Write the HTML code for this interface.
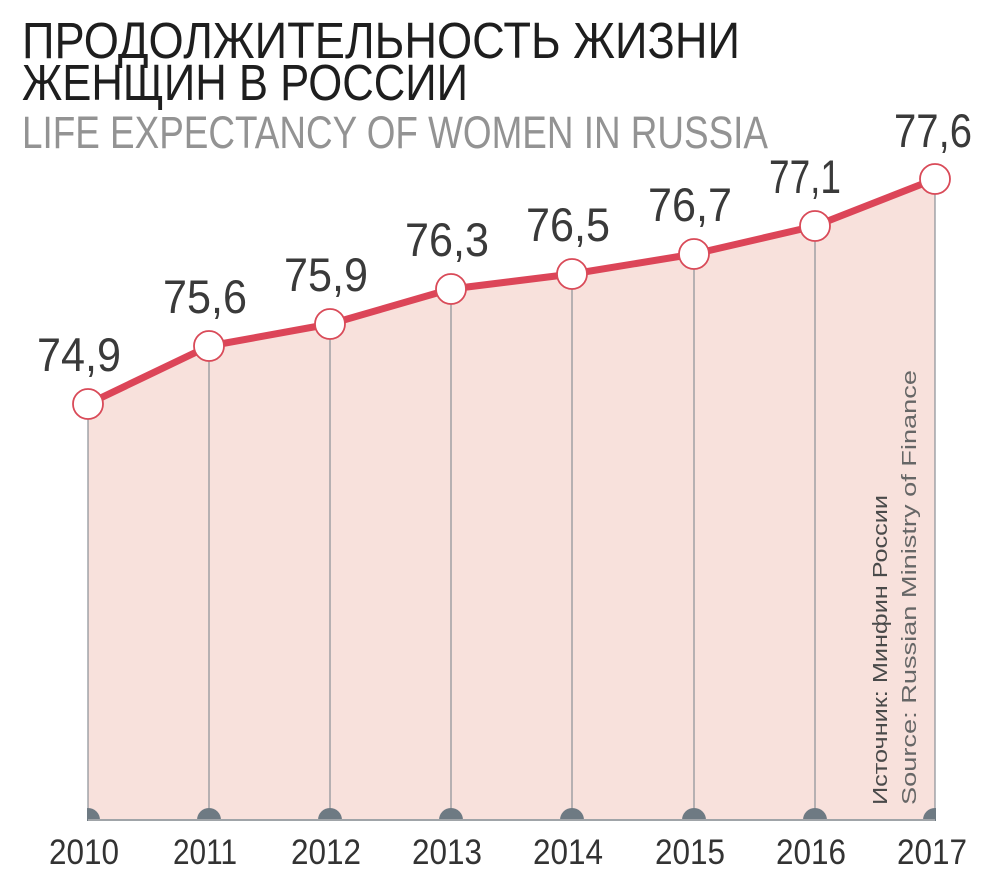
<!DOCTYPE html>
<html><head><meta charset="utf-8"><style>
html,body{margin:0;padding:0;background:#fff;}
svg{display:block;}
text{font-family:"Liberation Sans","DejaVu Sans",sans-serif;}
</style></head><body>
<svg width="1007" height="880" viewBox="0 0 1007 880" xmlns="http://www.w3.org/2000/svg">
<text x="22" y="58" font-size="51" fill="#1e1e1e" textLength="718" lengthAdjust="spacingAndGlyphs">ПРОДОЛЖИТЕЛЬНОСТЬ ЖИЗНИ</text>
<text x="22" y="100" font-size="51" fill="#1e1e1e" textLength="446" lengthAdjust="spacingAndGlyphs">ЖЕНЩИН В РОССИИ</text>
<text x="22" y="148" font-size="45" fill="#939393" textLength="746" lengthAdjust="spacingAndGlyphs">LIFE EXPECTANCY OF WOMEN IN RUSSIA</text>
<polygon fill="#f8e1dc" points="88,404 209,346 330,324 451,289 572,274 694,254 815,226 935,179 935,820 88,820"/>
<g stroke="#8a8f96" stroke-width="1.2">
<line x1="88" y1="404" x2="88" y2="820"/><line x1="209" y1="346" x2="209" y2="820"/><line x1="330" y1="324" x2="330" y2="820"/><line x1="451" y1="289" x2="451" y2="820"/><line x1="572" y1="274" x2="572" y2="820"/><line x1="694" y1="254" x2="694" y2="820"/><line x1="815" y1="226" x2="815" y2="820"/><line x1="935" y1="179" x2="935" y2="820"/>
</g>
<g fill="#6e7a83">
<circle cx="88" cy="820" r="12"/><circle cx="209" cy="820" r="12"/><circle cx="330" cy="820" r="12"/><circle cx="451" cy="820" r="12"/><circle cx="572" cy="820" r="12"/><circle cx="694" cy="820" r="12"/><circle cx="815" cy="820" r="12"/><circle cx="935" cy="820" r="12"/>
</g>
<rect x="0" y="821" width="1007" height="59" fill="#fff"/>
<rect x="0" y="400" width="87" height="421" fill="#fff"/>
<rect x="936" y="170" width="71" height="651" fill="#fff"/>
<line x1="88" y1="820" x2="935" y2="820" stroke="#a0a4a8" stroke-width="2"/>
<polyline fill="none" stroke="#dc4558" stroke-width="7" stroke-linejoin="round" points="88,404 209,346 330,324 451,289 572,274 694,254 815,226 935,179"/>
<g fill="#fff" stroke="#d94a58" stroke-width="1.8">
<circle cx="88" cy="404" r="15"/><circle cx="209" cy="346" r="15"/><circle cx="330" cy="324" r="15"/><circle cx="451" cy="289" r="15"/><circle cx="572" cy="274" r="15"/><circle cx="694" cy="254" r="15"/><circle cx="815" cy="226" r="15"/><circle cx="935" cy="179" r="15"/>
</g>
<g font-size="47" fill="#3a3a3a" text-anchor="middle">
<text x="79" y="371" textLength="84" lengthAdjust="spacingAndGlyphs">74,9</text>
<text x="205" y="313" textLength="84" lengthAdjust="spacingAndGlyphs">75,6</text>
<text x="326" y="291" textLength="84" lengthAdjust="spacingAndGlyphs">75,9</text>
<text x="447" y="256" textLength="84" lengthAdjust="spacingAndGlyphs">76,3</text>
<text x="568" y="241" textLength="84" lengthAdjust="spacingAndGlyphs">76,5</text>
<text x="690" y="221" textLength="84" lengthAdjust="spacingAndGlyphs">76,7</text>
<text x="805" y="193" textLength="72" lengthAdjust="spacingAndGlyphs">77,1</text>
<text x="933" y="147" textLength="78" lengthAdjust="spacingAndGlyphs">77,6</text>
</g>
<g font-size="35" fill="#333" text-anchor="middle">
<text x="84" y="864" textLength="70" lengthAdjust="spacingAndGlyphs">2010</text>
<text x="205" y="864" textLength="64" lengthAdjust="spacingAndGlyphs">2011</text>
<text x="326" y="864" textLength="70" lengthAdjust="spacingAndGlyphs">2012</text>
<text x="447" y="864" textLength="70" lengthAdjust="spacingAndGlyphs">2013</text>
<text x="568" y="864" textLength="70" lengthAdjust="spacingAndGlyphs">2014</text>
<text x="690" y="864" textLength="70" lengthAdjust="spacingAndGlyphs">2015</text>
<text x="811" y="864" textLength="70" lengthAdjust="spacingAndGlyphs">2016</text>
<text x="932" y="864" textLength="70" lengthAdjust="spacingAndGlyphs">2017</text>
</g>
<g font-size="20" fill="#4a4a4a">
<text transform="translate(887,805) rotate(-90)" textLength="310" lengthAdjust="spacingAndGlyphs">Источник: Минфин России</text>
<text transform="translate(916,805) rotate(-90)" textLength="435" lengthAdjust="spacingAndGlyphs" fill="#666">Source: Russian Ministry of Finance</text>
</g>
</svg>
</body></html>
